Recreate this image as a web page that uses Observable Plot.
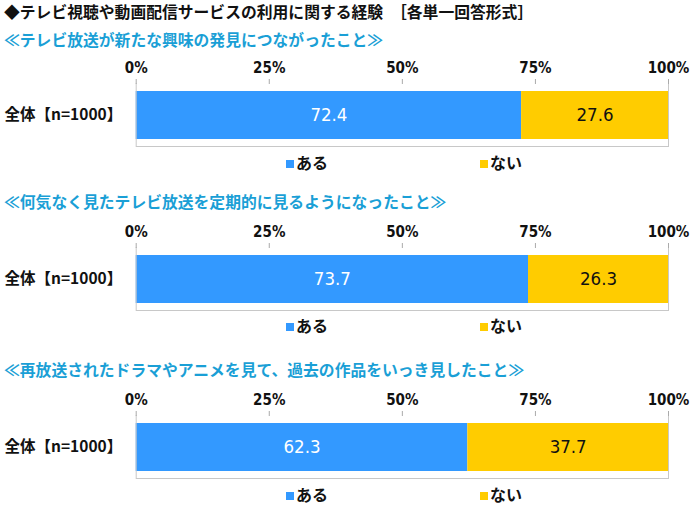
<!DOCTYPE html>
<html>
<head>
<meta charset="utf-8">
<script src="https://cdn.jsdelivr.net/npm/d3@7"></script>
<script src="https://cdn.jsdelivr.net/npm/@observablehq/plot@0.6"></script>
<style>
  html, body { margin: 0; padding: 0; background: #fff; }
  body { width: 700px; height: 508px; position: relative; overflow: hidden;
         font-family: "Noto Sans CJK JP", "Noto Sans", sans-serif; }
  .title { position: absolute; left: 4px; top: 2px; font-size: 15.8px; font-weight: bold; color: #111; white-space: nowrap; line-height: 20px; }
  .sub { position: absolute; left: 4px; font-size: 15.8px; font-weight: bold; color: #1a9fd6; white-space: nowrap; line-height: 20px; }
  .plot { position: absolute; left: 0; }
  .legend { position: absolute; left: 0; width: 700px; height: 20px; }
  .legend span.item { position: absolute; top: 0; font-size: 16px; font-weight: bold; color: #111; line-height: 20px; white-space: nowrap; }
  .legend span.sw { display: inline-block; width: 8px; height: 8px; margin-right: 2px; vertical-align: 1px; }
</style>
</head>
<body>
<script>
// ---- data ----
const mainTitle = "◆テレビ視聴や動画配信サービスの利用に関する経験　［各単一回答形式］";
const subtitles = [
  "≪テレビ放送が新たな興味の発見につながったこと≫",
  "≪何気なく見たテレビ放送を定期的に見るようになったこと≫",
  "≪再放送されたドラマやアニメを見て、過去の作品をいっき見したこと≫"
];
const categories = ["ある", "ない"];
const rowLabel = "全体【n=1000】";
const aruValues = [72.4, 73.7, 62.3];
const naiValues = [27.6, 26.3, 37.7];
const tickValues = [0, 25, 50, 75, 100];
const barColors = { "ある": "#3399ff", "ない": "#ffcc00" };
const textColors = { "ある": "#ffffff", "ない": "#111111" };

// ---- layout (page positions) ----
const subTops = [30, 192, 360];
const plotTops = [55, 219, 387];
const legendTops = [152, 315, 484];

const root = document.body;
const narrow = '"Liberation Sans Narrow", "DejaVu Sans Condensed", sans-serif';

const t = document.createElement("div");
t.className = "title";
t.textContent = mainTitle;
root.appendChild(t);

subtitles.forEach((s, i) => {
  const sd = document.createElement("div");
  sd.className = "sub";
  sd.style.top = subTops[i] + "px";
  sd.textContent = s;
  root.appendChild(sd);

  const data = [
    { y: rowLabel, cat: categories[0], v: aruValues[i] },
    { y: rowLabel, cat: categories[1], v: naiValues[i] }
  ];

  const chart = Plot.plot({
    width: 700,
    height: 95,
    marginLeft: 135.7,
    marginRight: 32,
    marginTop: 28,
    marginBottom: 4,
    style: { fontFamily: narrow, background: "transparent" },
    x: { domain: [0, 100] },
    y: { domain: [rowLabel], padding: 0.135 },
    color: { type: "identity" },
    marks: [
      Plot.barX(data, Plot.stackX({ x: "v", y: "y", fill: d => barColors[d.cat], order: categories })),
      Plot.ruleX([0, 100], { stroke: "#c8c8c8" }),
      Plot.frame({ anchor: "bottom", stroke: "#c8c8c8" }),
      Plot.text(data, Plot.stackX({ x: "v", y: "y", order: categories, text: d => d.v.toFixed(1),
        fill: d => textColors[d.cat], fontSize: 18.5, fontFamily: narrow })),
      Plot.axisX({ anchor: "top", ticks: tickValues, tickFormat: d => d + "%", tickSize: 5, tickPadding: 6,
        stroke: "#aaaaaa", fontSize: 15, fontWeight: "bold", label: null, fill: "#111" }),
      Plot.axisY({ tickSize: 0, tickPadding: 14, fontSize: 15.5, fontWeight: "bold", label: null, fill: "#111",
        fontFamily: '"Noto Sans CJK JP", sans-serif' })
    ]
  });
  chart.classList.add("plot");
  chart.style.position = "absolute";
  chart.style.top = plotTops[i] + "px";
  root.appendChild(chart);

  const lg = document.createElement("div");
  lg.className = "legend";
  lg.style.top = legendTops[i] + "px";
  const lefts = [286, 480];
  categories.forEach((c, k) => {
    const it = document.createElement("span");
    it.className = "item";
    it.style.left = lefts[k] + "px";
    const sw = document.createElement("span");
    sw.className = "sw";
    sw.style.background = barColors[c];
    it.appendChild(sw);
    it.appendChild(document.createTextNode(c));
    lg.appendChild(it);
  });
  root.appendChild(lg);
});
</script>
</body>
</html>
